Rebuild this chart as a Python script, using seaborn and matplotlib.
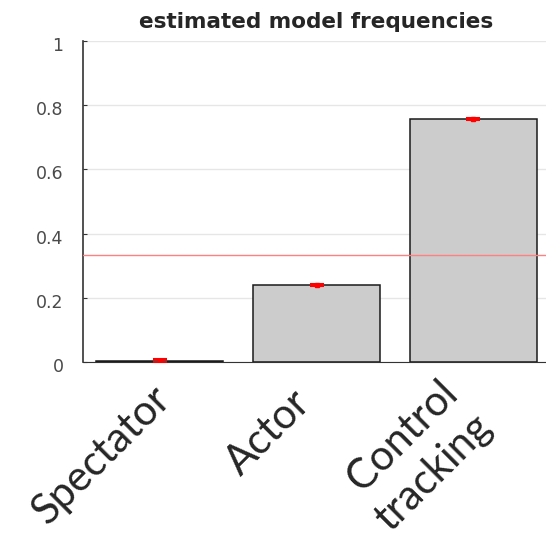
import numpy as np
import pandas as pd
import seaborn as sns
import matplotlib.pyplot as plt
from matplotlib.transforms import ScaledTranslation

models = ['Spectator', 'Actor', 'Control\ntracking']
freqs = [0.004, 0.24, 0.757]
freq_err = [0.004, 0.003, 0.003]
chance = 1 / 3
yticks = [0, 0.2, 0.4, 0.6, 0.8, 1]
yticklabels = ['0', '0.2', '0.4', '0.6', '0.8', '1']

sns.set_style('white')
plt.rcParams['font.family'] = ['DejaVu Sans']

df = pd.DataFrame({'model': models, 'freq': freqs})

fig = plt.figure(figsize=(5.46, 5.36), dpi=100)
ax = fig.add_axes([83 / 546, 174 / 536, 467 / 546, 321 / 536])

sns.barplot(data=df, x='model', y='freq', ax=ax, color='#cccccc',
            edgecolor='#1a1a1a', linewidth=1.1, width=0.81, saturation=1,
            errorbar=None, zorder=2)

ax.errorbar(np.arange(len(models)), freqs, yerr=freq_err, fmt='s',
            color='red', markersize=2.5, capsize=5, elinewidth=1,
            capthick=1.5, zorder=4)

ax.axhline(chance, color='#ff8080', linewidth=1, zorder=3)

ax.set_ylim(0, 1)
ax.set_xlim(-0.49, 2.49)
ax.set_yticks(yticks)
ax.set_yticklabels(yticklabels)
ax.yaxis.grid(True, color='#e6e6e6', linewidth=1, zorder=0)
ax.set_axisbelow(True)
ax.tick_params(axis='y', direction='in', length=3, left=True, color='#333333',
               labelsize=12.5, labelcolor='#4a4a4a', pad=14)
ax.tick_params(axis='x', length=0, labelsize=30, pad=10)
plt.setp(ax.get_xticklabels(), rotation=45, ha='right', rotation_mode='anchor',
         family=['Lato', 'DejaVu Sans'], linespacing=1.3)

# the labels sit a bit left of their ticks in the original
shifts = [(-9, -3), (-26, -7), (-35, 2)]
for lab, (dx, dy) in zip(ax.get_xticklabels(), shifts):
    lab.set_transform(lab.get_transform() +
                      ScaledTranslation(dx / 100, dy / 100, fig.dpi_scale_trans))
# y labels sit slightly below their ticks
for lab in ax.get_yticklabels():
    lab.set_transform(lab.get_transform() +
                      ScaledTranslation(0, -0.03, fig.dpi_scale_trans))

for s in ['top', 'right']:
    ax.spines[s].set_visible(False)
ax.spines['left'].set_color('#333333')
ax.spines['bottom'].set_color('#333333')
ax.spines['left'].set_linewidth(1.2)

ax.set_xlabel('')
ax.set_ylabel('')
ax.set_title('estimated model frequencies', fontsize=15.5, fontweight='bold',
             pad=9)

fig.savefig('out.png', dpi=100)
